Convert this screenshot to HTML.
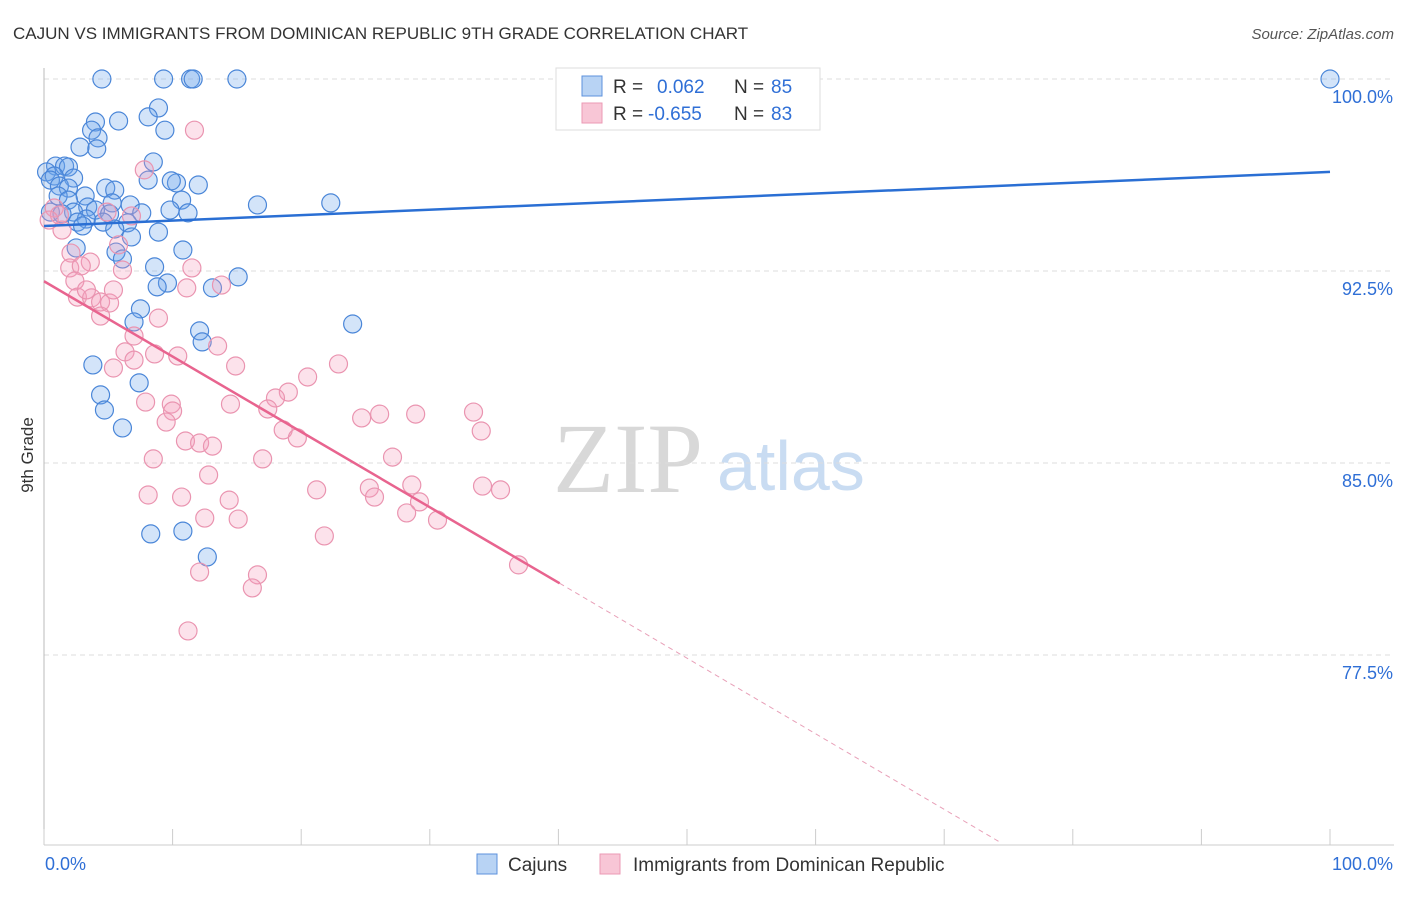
<!DOCTYPE html>
<html><head><meta charset="utf-8"><style>
body{margin:0;background:#fff;font-family:"Liberation Sans",sans-serif;}
</style></head><body>
<svg id="chart" width="1406" height="892" xmlns="http://www.w3.org/2000/svg" font-family="Liberation Sans, sans-serif">
<text x="13" y="39" font-size="17" fill="#333">CAJUN VS IMMIGRANTS FROM DOMINICAN REPUBLIC 9TH GRADE CORRELATION CHART</text>
<text x="1394" y="39" font-size="15" fill="#555" text-anchor="end" font-style="italic">Source: ZipAtlas.com</text>
<text x="553" y="492" font-size="100" fill="#d8d8d8" font-family="Liberation Serif, serif">ZIP</text>
<text x="717" y="490" font-size="70" fill="#c9dcf2">atlas</text>
<g id="grid"></g>
<g id="axes"></g>
<g id="pts"></g>
<g id="lines"></g>
<text transform="translate(33,455) rotate(-90)" font-size="17" fill="#333" text-anchor="middle">9th Grade</text>
<g>
<rect x="556" y="68" width="264" height="62" fill="#fff" stroke="#ddd"/>
<rect x="582" y="76" width="20" height="20" fill="#b8d3f4" stroke="#5c92dc"/>
<rect x="582" y="103" width="20" height="20" fill="#f8c6d6" stroke="#eb9ab4"/>
<text x="613" y="93" font-size="19" fill="#333">R = </text><text x="657" y="93" font-size="19" fill="#2f6fd6">0.062</text>
<text x="734" y="93" font-size="19" fill="#333">N = </text><text x="771" y="93" font-size="19" fill="#2f6fd6">85</text>
<text x="613" y="120" font-size="19" fill="#333">R = </text><text x="648" y="120" font-size="19" fill="#2f6fd6">-0.655</text>
<text x="734" y="120" font-size="19" fill="#333">N = </text><text x="771" y="120" font-size="19" fill="#2f6fd6">83</text>
</g>
<g>
<rect x="477" y="854" width="20" height="20" fill="#b8d3f4" stroke="#5c92dc"/>
<text x="508" y="871" font-size="19" fill="#333">Cajuns</text>
<rect x="600" y="854" width="20" height="20" fill="#f8c6d6" stroke="#eb9ab4"/>
<text x="633" y="871" font-size="19" fill="#333">Immigrants from Dominican Republic</text>
</g>
</svg>
<script>
const yTicks=[100,92.5,85,77.5];
const yTickLabels=["100.0%","92.5%","85.0%","77.5%"];
const xTicks=[0,10,20,30,40,50,60,70,80,90,100];
const blueX=[4.5,9.3,11.4,11.6,15.0,100,8.9,8.1,4.0,5.8,3.7,9.4,4.2,4.1,2.8,8.5,0.9,1.6,1.9,0.2,0.8,0.5,2.3,1.2,1.9,4.8,5.5,8.1,10.3,12.0,9.9,3.2,1.1,1.9,5.3,6.7,10.7,16.6,22.3,3.4,4.0,2.3,0.5,1.4,5.1,7.6,9.8,11.2,3.3,6.5,4.6,2.6,3.0,5.5,8.9,6.8,5.6,2.5,6.1,10.8,8.6,15.1,9.6,13.1,8.8,7.5,7.0,24.0,12.1,12.3,3.8,4.4,7.4,4.7,6.1,8.3,10.8,12.7];
const blueY=[100,100,100,100,100,100,98.87,98.52,98.32,98.36,98.0,98.0,97.7,97.27,97.34,96.76,96.6,96.6,96.56,96.37,96.21,96.05,96.13,95.82,95.74,95.74,95.66,96.05,95.94,95.86,96.02,95.43,95.43,95.27,95.16,95.08,95.27,95.08,95.16,95.0,94.88,94.8,94.8,94.73,94.73,94.77,94.88,94.77,94.53,94.38,94.41,94.41,94.26,94.14,94.02,93.83,93.24,93.4,92.97,93.32,92.66,92.27,92.03,91.84,91.88,91.02,90.51,90.43,90.16,89.73,88.83,87.66,88.13,87.07,86.37,82.23,82.34,81.33];
const pinkX=[11.7,7.8,4.9,6.8,0.8,1.2,0.4,1.4,2.1,3.6,2.0,2.9,2.4,5.8,6.1,2.6,3.7,3.3,4.4,5.1,5.4,4.4,8.9,7.0,11.5,13.8,11.1,13.5,6.3,8.6,10.4,14.9,5.4,7.0,22.9,20.5,19.0,18.0,17.4,14.5,9.9,7.9,10.0,9.5,18.6,19.7,24.7,26.1,28.9,33.4,34.0,11.0,12.1,13.1,27.1,8.5,17.0,12.8,25.3,25.7,28.6,29.2,28.2,30.6,34.1,35.5,8.1,10.7,14.4,21.2,12.5,15.1,21.8,36.9,12.1,16.6,16.2,11.2];
const pinkY=[98.0,96.45,94.8,94.65,94.96,94.69,94.49,94.1,93.2,92.85,92.62,92.7,92.11,93.52,92.54,91.48,91.45,91.76,91.29,91.25,91.76,90.74,90.66,89.96,92.62,91.95,91.84,89.57,89.34,89.26,89.18,88.79,88.71,89.02,88.87,88.36,87.77,87.54,87.11,87.3,87.3,87.38,87.03,86.6,86.29,85.98,86.76,86.91,86.91,86.99,86.25,85.86,85.78,85.66,85.23,85.16,85.16,84.53,84.02,83.67,84.14,83.48,83.05,82.77,84.1,83.95,83.75,83.67,83.55,83.95,82.85,82.81,82.15,81.02,80.74,80.63,80.12,78.44];
const blueTrend=[[0,94.26],[100,96.37]];
const pinkTrend=[[0,92.1],[40.1,80.3]];
const pinkTrendExt=[[40.1,80.3],[74.3,70.2]];

const NS="http://www.w3.org/2000/svg";
const sx=v=>44+v*12.86;
const sy=v=>79+(100-v)*25.6;
function mk(tag,attrs,parent){const e=document.createElementNS(NS,tag);for(const k in attrs)e.setAttribute(k,attrs[k]);document.getElementById(parent).appendChild(e);return e;}

yTicks.forEach((t,i)=>{
  const l=mk('line',{x1:44,x2:1394,y1:sy(t),y2:sy(t),stroke:'#ddd','stroke-dasharray':'5,4'},'grid');
  
  
  const tx=mk('text',{x:1393,y:sy(t)+24,'font-size':18,fill:'#2f6fd6','text-anchor':'end'},'grid');
  tx.textContent=yTickLabels[i];
  
  
});
const ax=mk('line',{x1:44,x2:1394,y1:845,y2:845,stroke:'#ccc'},'axes');


const ay=mk('line',{x1:44,x2:44,y1:68,y2:845,stroke:'#bbb'},'axes');


xTicks.forEach(t=>{
  const l=mk('line',{x1:sx(t),x2:sx(t),y1:829,y2:845,stroke:'#ccc'},'axes');
  
  
});
const xl0=mk('text',{x:45,y:870,'font-size':18,fill:'#2f6fd6'},'axes');xl0.textContent='0.0%';


const xl1=mk('text',{x:1393,y:870,'font-size':18,fill:'#2f6fd6','text-anchor':'end'},'axes');xl1.textContent='100.0%';



blueX.forEach((x,i)=>{
  const c=mk('circle',{cx:sx(x),cy:sy(blueY[i]),r:9,fill:'rgba(110,165,235,0.3)',stroke:'#4a86d8','stroke-width':1.2},'pts');
  
  
});
pinkX.forEach((x,i)=>{
  const c=mk('circle',{cx:sx(x),cy:sy(pinkY[i]),r:9,fill:'rgba(245,160,190,0.3)',stroke:'#ea94b0','stroke-width':1.2},'pts');
  
  
});
const bl=mk('line',{x1:sx(blueTrend[0][0]),y1:sy(blueTrend[0][1]),x2:sx(blueTrend[1][0]),y2:sy(blueTrend[1][1]),stroke:'#2a6fd4','stroke-width':2.5},'lines');


const pl=mk('line',{x1:sx(pinkTrend[0][0]),y1:sy(pinkTrend[0][1]),x2:sx(pinkTrend[1][0]),y2:sy(pinkTrend[1][1]),stroke:'#e8648f','stroke-width':2.5},'lines');


const pd=mk('line',{x1:sx(pinkTrendExt[0][0]),y1:sy(pinkTrendExt[0][1]),x2:sx(pinkTrendExt[1][0]),y2:sy(pinkTrendExt[1][1]),stroke:'#e8a0b8','stroke-width':1,'stroke-dasharray':'5,4'},'lines');


</script>
</body></html>
